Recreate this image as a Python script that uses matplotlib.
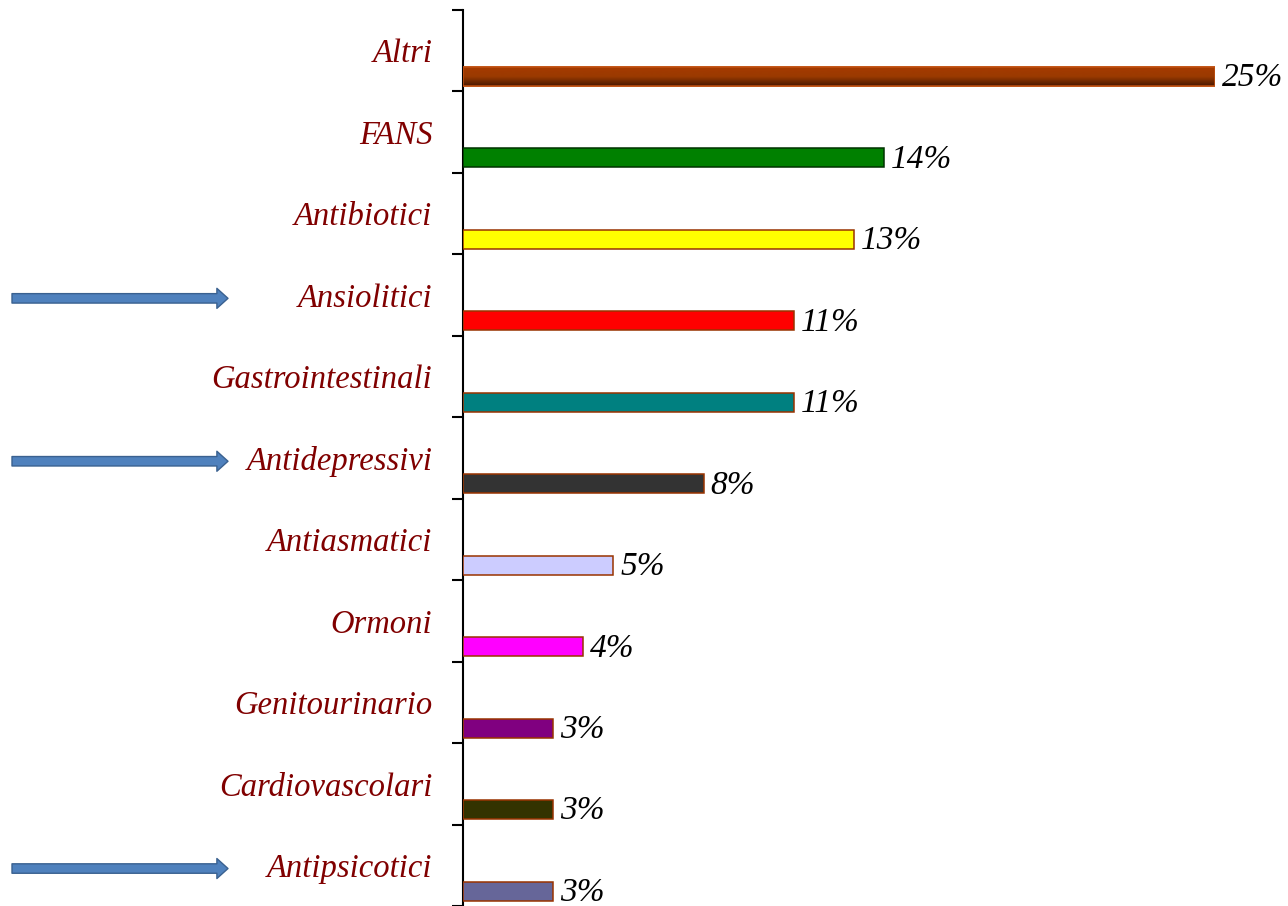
import matplotlib
matplotlib.use("Agg")
import matplotlib.pyplot as plt
import numpy as np
from matplotlib.patches import ArrowStyle
from matplotlib.transforms import blended_transform_factory
from matplotlib.colors import LinearSegmentedColormap

categories = ["Antipsicotici", "Cardiovascolari", "Genitourinario", "Ormoni", "Antiasmatici",
              "Antidepressivi", "Gastrointestinali", "Ansiolitici", "Antibiotici", "FANS", "Altri"]
values = [3, 3, 3, 4, 5, 8, 11, 11, 13, 14, 25]
value_labels = ["3%", "3%", "3%", "4%", "5%", "8%", "11%", "11%", "13%", "14%", "25%"]
bar_colors = ["#666699", "#333300", "#800080", "#FF00FF", "#CCCCFF", "#333333",
              "#008080", "#FF0000", "#FFFF00", "#008000", "#993300"]
edge_colors = ["#993300", "#993300", "#993300", "#993300", "#993300", "#993300",
               "#993300", "#993300", "#993300", "#003300", "#C05010"]
arrow_targets = ["Ansiolitici", "Antidepressivi", "Antipsicotici"]

plt.rcParams['font.family'] = ['Liberation Serif', 'DejaVu Serif']

fig = plt.figure(figsize=(12.88, 9.06), dpi=100)
ax = fig.add_axes([463/1288, 0.0, 752/1288, 896/906])

ypos = np.arange(len(categories))
bar_off = -0.316
bar_h = 0.233
bars = ax.barh(ypos + bar_off, values, height=bar_h, color=bar_colors,
               edgecolor=edge_colors, linewidth=1.1, zorder=3)

# gradient on the "Altri" bar
b = bars[-1]
x0, y0 = b.get_x(), b.get_y()
w, h = b.get_width(), b.get_height()
grad = np.linspace(0, 1, 64).reshape(-1, 1)
cmap = LinearSegmentedColormap.from_list("g", ["#4A1800", "#9A3A00", "#A53A00"])
im = ax.imshow(grad, extent=[x0, x0 + w, y0, y0 + h], origin="lower", aspect="auto",
               cmap=cmap, zorder=3.5)
im.set_clip_path(b)
ax.barh([y0 + h / 2], [w], height=h, color="none", edgecolor=edge_colors[-1],
        linewidth=1.1, zorder=4)

for y, v, lab in zip(ypos, values, value_labels):
    ax.text(v + 0.22, y + bar_off - 0.02, lab, ha="left", va="center",
            fontsize=24, style="italic", color="black", clip_on=False)

ax.set_xlim(0, 25)
ax.set_ylim(-0.5, 10.5)
ax.set_yticks(ypos)
ax.set_yticklabels(categories, fontsize=23.5, style="italic", color="#800000")
ax.tick_params(axis="y", which="major", length=0, pad=22)
ax.set_yticks(np.arange(-0.5, 11, 1), minor=True)
ax.tick_params(axis="y", which="minor", length=8, width=1.5, direction="out")
ax.set_xticks([])
for s in ["top", "right", "bottom"]:
    ax.spines[s].set_visible(False)
ax.spines["left"].set_linewidth(1.5)

# blue block arrows pointing to selected categories
trans = blended_transform_factory(fig.transFigure, ax.transData)
style = ArrowStyle.Simple(head_length=8, head_width=14.4, tail_width=6.8)
for name in arrow_targets:
    yi = categories.index(name) - 0.04
    ax.annotate("", xy=(228/1288, yi), xycoords=trans,
                xytext=(12/1288, yi), textcoords=trans,
                arrowprops=dict(arrowstyle=style, mutation_scale=1, shrinkA=0, shrinkB=0,
                                facecolor="#4F81BD", edgecolor="#3A6190", linewidth=1.0),
                annotation_clip=False)

fig.savefig("out.png", dpi=100)
